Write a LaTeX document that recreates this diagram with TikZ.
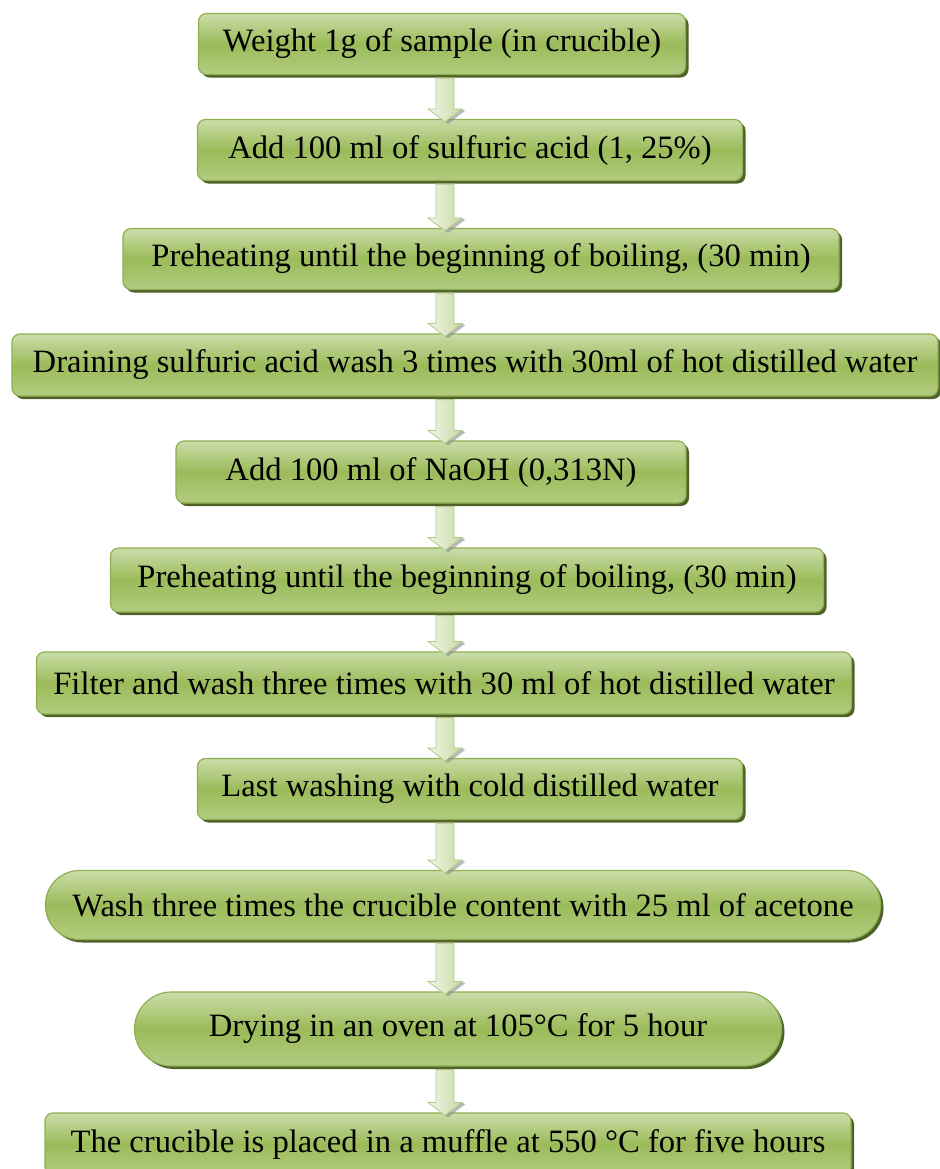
\documentclass[tikz,border=0pt]{standalone}
\usepackage{fontspec}
\setmainfont{Liberation Serif}
\usepackage{tikz}
\usetikzlibrary{positioning,shadows,calc}

\definecolor{boxtop}{HTML}{CADDA9}
\definecolor{boxmid}{HTML}{9BBB59}
\definecolor{boxbot}{HTML}{B2CC80}
\definecolor{boxline}{HTML}{8EAF52}
\definecolor{boxshade}{HTML}{4F6228}
\definecolor{arrowlight}{HTML}{F2F6E8}
\definecolor{arrowdark}{HTML}{C8D9A4}
\definecolor{arrowline}{HTML}{B3C98A}

\tikzset{
  stepbox/.style={draw=boxline, line width=0.6pt, rounded corners=4pt,
    top color=boxtop, bottom color=boxbot, middle color=boxmid,
    inner sep=0pt, font=\fontsize{16.3}{19}\selectfont,
    drop shadow={shadow xshift=1.5pt, shadow yshift=-1.5pt, fill=boxshade, opacity=1}},
  pillbox/.style={stepbox, rounded corners=17pt}
}

% down arrow from one step to the next
\newcommand{\flowstep}[2]{%
  \path (#1.south -| axis) coordinate (top) (#2.north -| axis) coordinate (tip);
  \fill[black!45, opacity=0.6] ($(tip)+(3,5)$) -- ($(tip)+(20,-8)$) -- ($(tip)+(17,-10)$) -- ($(tip)+(0,3)$) -- cycle;
  \shade[left color=arrowlight, right color=arrowdark, draw=arrowline, line width=0.4pt]
    ($(top)+(-9,3)$) -- ($(tip)+(-9,-10)$) -- ($(tip)+(-17,-10)$) -- ($(tip)+(0,3)$)
    -- ($(tip)+(17,-10)$) -- ($(tip)+(9,-10)$) -- ($(top)+(9,3)$) -- cycle;
}

\begin{document}
\begin{tikzpicture}[x=0.5pt, y=-0.5pt]
  \useasboundingbox (0,0) rectangle (939,1169);
  \coordinate (axis) at (445,0);

  \node[stepbox, minimum width=243.5pt, minimum height=30.5pt] (weigh) at (442,44) {Weight 1g of sample (in crucible)};
  \node[stepbox, minimum width=272.5pt, minimum height=30.5pt] (acid) at (470,150) {Add 100 ml of sulfuric acid (1, 25\%)};
  \node[stepbox, minimum width=358pt, minimum height=30.5pt] (heat1) at (481,259) {Preheating until the beginning of boiling, (30 min)};
  \node[stepbox, minimum width=463pt, minimum height=31pt] (drain) at (475,365) {Draining sulfuric acid wash 3 times with 30ml of hot distilled water};
  \node[stepbox, minimum width=255pt, minimum height=31pt] (naoh) at (431,472) {Add 100 ml of NaOH (0,313N)};
  \node[stepbox, minimum width=356.5pt, minimum height=32pt] (heat2) at (467,580) {Preheating until the beginning of boiling, (30 min)};
  \node[stepbox, minimum width=407.5pt, minimum height=31pt] (filter) at (444,683) {Filter and wash three times with 30 ml of hot distilled water};
  \node[stepbox, minimum width=272.5pt, minimum height=30.5pt] (cold) at (470,789) {Last washing with cold distilled water};
  \node[pillbox, minimum width=417.5pt, minimum height=34.5pt] (acetone) at (463,905) {Wash three times the crucible content with 25 ml of acetone};
  \node[pillbox, minimum width=323.5pt, minimum height=37pt, rounded corners=18.5pt] (oven) at (458,1029) {Drying in an oven at 105°C for 5 hour};
  \node[stepbox, minimum width=403pt, minimum height=31pt] (muffle) at (448,1144) {The crucible is placed in a muffle at 550 °C for five hours};

  \flowstep{weigh}{acid}
  \flowstep{acid}{heat1}
  \flowstep{heat1}{drain}
  \flowstep{drain}{naoh}
  \flowstep{naoh}{heat2}
  \flowstep{heat2}{filter}
  \flowstep{filter}{cold}
  \flowstep{cold}{acetone}
  \flowstep{acetone}{oven}
  \flowstep{oven}{muffle}
\end{tikzpicture}
\end{document}
